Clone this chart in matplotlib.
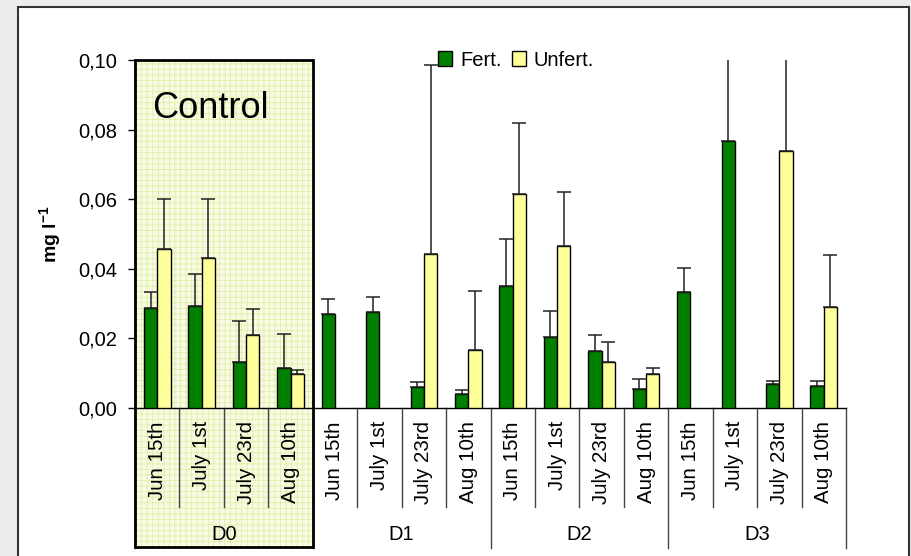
import matplotlib.pyplot as plt
import numpy as np
from matplotlib.patches import Rectangle
from matplotlib.lines import Line2D
from matplotlib.ticker import FuncFormatter
import matplotlib.transforms as mtransforms

plt.rcParams['font.family'] = ['Liberation Sans', 'DejaVu Sans']
plt.rcParams['mathtext.fontset'] = 'custom'
plt.rcParams['mathtext.rm'] = 'Liberation Sans'
plt.rcParams['mathtext.bf'] = 'Liberation Sans:bold'
plt.rcParams['hatch.linewidth'] = 0.6

# sampling dates within each treatment
dates = ['Jun 15th', 'July 1st', 'July 23rd', 'Aug 10th']
groups = ['D0', 'D1', 'D2', 'D3']

# mean concentration (mg/l) and upper error, fertilized plots
fert = [0.0287, 0.0294, 0.0132, 0.0115,
        0.0269, 0.0277, 0.0060, 0.0040,
        0.0350, 0.0205, 0.0163, 0.0055,
        0.0333, 0.0768, 0.0068, 0.0062]
fert_err = [0.0046, 0.0090, 0.0119, 0.0098,
            0.0043, 0.0043, 0.0016, 0.0011,
            0.0135, 0.0075, 0.0047, 0.0029,
            0.0068, 0.0450, 0.0009, 0.0015]

# unfertilized plots (no sample -> nan)
unfert = [0.0457, 0.0431, 0.0209, 0.0098,
          np.nan, np.nan, 0.0443, 0.0167,
          0.0615, 0.0465, 0.0133, 0.0098,
          np.nan, np.nan, 0.0739, 0.0289]
unfert_err = [0.0144, 0.0170, 0.0076, 0.0012,
              np.nan, np.nan, 0.0543, 0.0168,
              0.0205, 0.0155, 0.0057, 0.0017,
              np.nan, np.nan, 0.0500, 0.0151]

W, H = 911, 556
fig = plt.figure(figsize=(W / 100, H / 100), dpi=100)
fig.patch.set_facecolor('#ebeceb')

# white slide panel (runs off the bottom edge)
fig.patches.append(Rectangle((18 / W, -0.05), (909 - 18) / W, (H - 7) / H + 0.05,
                             transform=fig.transFigure, facecolor='white',
                             edgecolor='#333333', lw=1.5, zorder=-10))

ax = fig.add_axes([135 / W, (H - 408) / H, (846 - 135) / W, (408 - 60) / H])
ax.set_facecolor('none')

n = len(fert)
x = np.arange(n)
bw = 0.3

# shaded "Control" block, reaching down over the category labels
trans = mtransforms.blended_transform_factory(ax.transData, ax.transAxes)
box_bottom = (408 - 547) / 348
ax.add_patch(Rectangle((-0.5, box_bottom), 4, 1 - box_bottom, transform=trans,
                       facecolor='#f8fbe2', edgecolor='#e0eeaa', hatch='+++',
                       lw=0, clip_on=False, zorder=0))
ax.add_patch(Rectangle((-0.5, box_bottom), 4, 1 - box_bottom, transform=trans,
                       fill=False, edgecolor='black', lw=2, clip_on=False,
                       zorder=5))
ax.text(-0.12, 0.086, 'Control', fontsize=26, va='center', ha='left')

err_kw = dict(ecolor='#222222', elinewidth=1.1, capsize=5, capthick=1.1)
fert_yerr = np.vstack([np.zeros(n), fert_err])
unfert_yerr = np.vstack([np.zeros(n), unfert_err])
ax.bar(x - bw / 2, fert, bw, color='#008000', edgecolor='black', lw=1,
       yerr=fert_yerr, error_kw=err_kw, label='Fert.', zorder=3)
ax.bar(x + bw / 2, unfert, bw, color='#ffff99', edgecolor='black', lw=1,
       yerr=unfert_yerr, error_kw=err_kw, label='Unfert.', zorder=3)

ax.set_xlim(-0.5, n - 0.5)
ax.set_ylim(0, 0.10)
ax.set_yticks(np.arange(0, 0.101, 0.02))
ax.yaxis.set_major_formatter(FuncFormatter(lambda v, p: f'{v:.2f}'.replace('.', ',')))
ax.tick_params(axis='y', direction='out', length=5, width=1, pad=8,
               labelsize=14.5)
ax.set_xticks([])

for s in ['top', 'right']:
    ax.spines[s].set_visible(False)
ax.spines['left'].set_linewidth(1)
ax.spines['bottom'].set_linewidth(1)

# category separators under the axis
inner_bottom = (408 - 507) / 348
group_bottom = (408 - 548) / 348
for k in range(n + 1):
    yb = group_bottom if k % 4 == 0 else inner_bottom
    ax.add_line(Line2D([k - 0.5, k - 0.5], [0, yb], transform=trans,
                       color='#444444', lw=1, clip_on=False))

for i in range(n):
    ax.text(i, (408 - 421) / 348, dates[i % 4], transform=trans,
            rotation=90, ha='center', va='top', fontsize=14.8)
for g, name in enumerate(groups):
    ax.text(g * 4 + 1.5, (408 - 534) / 348, name, transform=trans,
            ha='center', va='center', fontsize=14.5)

ax.set_ylabel(r'mg l$^{\mathbf{-1}}$', fontsize=14, fontweight='bold')
ax.yaxis.set_label_coords((64 - 135) / (846 - 135), 0.5)

ax.legend(loc='center left', bbox_to_anchor=(438 / W, 1 - 60 / H),
          bbox_transform=fig.transFigure, frameon=False, ncol=2,
          fontsize=14.5, handlelength=0.7, handleheight=0.7,
          handletextpad=0.4, columnspacing=0.5, borderpad=0,
          borderaxespad=0)

fig.savefig('out.png', dpi=100, facecolor=fig.get_facecolor())
